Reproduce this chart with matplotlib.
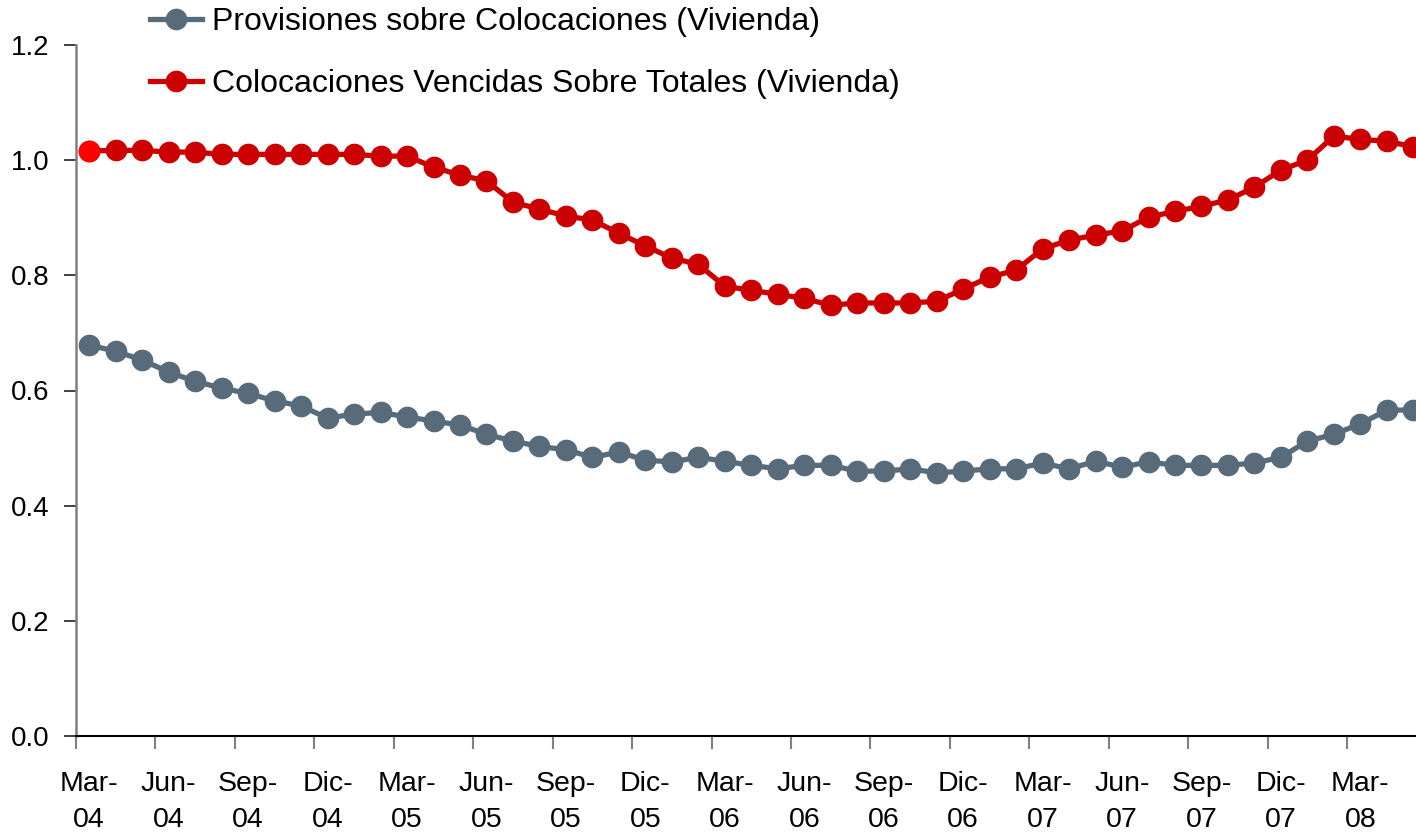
import matplotlib
matplotlib.use("Agg")
import matplotlib.pyplot as plt

plt.rcParams['font.family'] = ['Liberation Sans', 'DejaVu Sans']

series_names = ["Provisiones sobre Colocaciones (Vivienda)",
                "Colocaciones Vencidas Sobre Totales (Vivienda)"]

# monthly, Mar-04 .. May-08
provisiones = [0.679, 0.668, 0.653, 0.632, 0.616, 0.604, 0.595, 0.582, 0.573, 0.552,
               0.559, 0.562, 0.554, 0.547, 0.540, 0.524, 0.512, 0.503, 0.497, 0.484,
               0.493, 0.479, 0.476, 0.484, 0.477, 0.470, 0.464, 0.470, 0.470, 0.460,
               0.460, 0.464, 0.457, 0.460, 0.464, 0.464, 0.474, 0.464, 0.477, 0.467,
               0.476, 0.470, 0.470, 0.470, 0.474, 0.484, 0.512, 0.524, 0.542, 0.566,
               0.566]
vencidas = [1.016, 1.017, 1.017, 1.014, 1.014, 1.010, 1.010, 1.010, 1.010, 1.010,
            1.010, 1.007, 1.007, 0.988, 0.974, 0.964, 0.927, 0.915, 0.903, 0.896,
            0.873, 0.851, 0.830, 0.819, 0.781, 0.774, 0.767, 0.760, 0.748, 0.752,
            0.752, 0.752, 0.755, 0.776, 0.797, 0.809, 0.846, 0.861, 0.870, 0.877,
            0.901, 0.911, 0.920, 0.931, 0.953, 0.983, 1.000, 1.042, 1.036, 1.033,
            1.023]

tick_labels = ["Mar-\n04", "Jun-\n04", "Sep-\n04", "Dic-\n04",
               "Mar-\n05", "Jun-\n05", "Sep-\n05", "Dic-\n05",
               "Mar-\n06", "Jun-\n06", "Sep-\n06", "Dic-\n06",
               "Mar-\n07", "Jun-\n07", "Sep-\n07", "Dic-\n07",
               "Mar-\n08"]
y_ticks = [0.0, 0.2, 0.4, 0.6, 0.8, 1.0, 1.2]

GRAY = '#586B7A'
RED = '#CC0000'

W, H = 1416, 832
fig = plt.figure(figsize=(W / 100, H / 100), dpi=100)
ax = fig.add_axes([76 / W, 96 / H, 1340 / W, 691 / H])

x = list(range(len(vencidas)))
ax.plot(x, provisiones, color=GRAY, lw=3.8, marker='o', ms=14.6,
        mec=GRAY, mfc=GRAY, label=series_names[0], zorder=3)
ax.plot(x, vencidas, color=RED, lw=3.8, marker='o', ms=14.6,
        mec=RED, mfc=RED, label=series_names[1], zorder=4)
ax.plot(x[0], vencidas[0], 'o', ms=14.6, color='#FF0000', zorder=5)

ax.set_xlim(-0.5, 50.1)
ax.set_ylim(0, 1.2)

ax.set_yticks(y_ticks)
ax.set_yticklabels([f"{v:.1f}" for v in y_ticks], fontsize=20)
ax.tick_params(axis='y', direction='out', length=9, width=1.2, color='#222222', pad=10)

# boundaries between quarters as ticks, labels at category centers
lab_pos = list(range(0, len(vencidas), 3))[:len(tick_labels)]
ax.set_xticks([p - 0.5 for p in lab_pos])
ax.set_xticklabels([])
ax.tick_params(axis='x', direction='out', length=9, width=1.5, color='#808080')
ax.set_xticks(lab_pos, minor=True)
ax.set_xticklabels(tick_labels, minor=True, fontsize=20.5, linespacing=1.5)
ax.tick_params(axis='x', which='minor', length=0, pad=25)

for s in ('top', 'right'):
    ax.spines[s].set_visible(False)
ax.spines['left'].set_color('#808080')
ax.spines['left'].set_linewidth(1.8)
ax.spines['bottom'].set_color('black')
ax.spines['bottom'].set_linewidth(1.5)

h, l = ax.get_legend_handles_labels()
fig.legend(h[:2], l[:2], loc='upper left', bbox_to_anchor=(150 / W, 1 - 7 / H),
           frameon=False, fontsize=23, handlelength=1.63, handletextpad=0.3,
           labelspacing=1.0, borderpad=0, borderaxespad=0)

fig.savefig('out.png', dpi=100, facecolor='white')
